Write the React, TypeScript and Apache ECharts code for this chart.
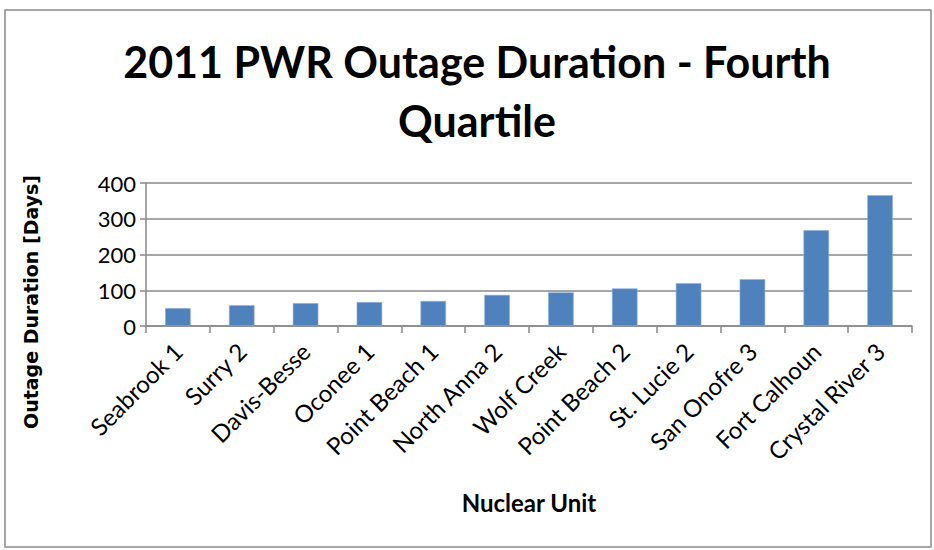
import React, { useEffect, useRef } from "react";
import * as echarts from "echarts";

const categories = [
  "Seabrook 1",
  "Surry 2",
  "Davis-Besse",
  "Oconee 1",
  "Point Beach 1",
  "North Anna 2",
  "Wolf Creek",
  "Point Beach 2",
  "St. Lucie 2",
  "San Onofre 3",
  "Fort Calhoun",
  "Crystal River 3",
];
const durations = [50, 58, 64, 67, 70, 87, 94, 105, 120, 131, 268, 366];
const titleText = "2011 PWR Outage Duration - Fourth\nQuartile";
const yAxisTitle = "Outage Duration [Days]";
const xAxisTitle = "Nuclear Unit";

export default function App() {
  const ref = useRef<HTMLDivElement>(null);
  useEffect(() => {
    if (!ref.current) return;
    const chart = echarts.init(ref.current, null, { renderer: "svg" });
    const font = "Lato, 'Open Sans', sans-serif";
    chart.setOption({
      animation: false,
      backgroundColor: "#ffffff",
      title: {
        text: titleText,
        left: 472,
        top: 27,
        textAlign: "center",
        textStyle: {
          fontFamily: font,
          fontWeight: "bold",
          fontSize: 43,
          lineHeight: 59,
          color: "#000",
        },
      },
      graphic: [
        {
          type: "rect",
          shape: { x: 5, y: 10, width: 926, height: 537 },
          style: { fill: "none", stroke: "#8a8a8a", lineWidth: 1.5 },
          silent: true,
        },
        {
          type: "text",
          x: 31,
          y: 302,
          rotation: Math.PI / 2,
          style: {
            text: yAxisTitle,
            fontFamily: "'DejaVu Sans', sans-serif",
            fontWeight: "bold",
            fontSize: 19,
            fill: "#000",
            align: "center",
            verticalAlign: "middle",
          },
          silent: true,
        },
      ],
      grid: { left: 146, right: 22, top: 183, bottom: 224, containLabel: false },
      xAxis: {
        type: "category",
        data: categories,
        name: xAxisTitle,
        nameLocation: "middle",
        nameGap: 164,
        nameTextStyle: {
          fontFamily: font,
          fontWeight: "bold",
          fontSize: 24,
          color: "#000",
        },
        axisLine: { lineStyle: { color: "#898989", width: 1.5 } },
        axisTick: { show: true, alignWithLabel: false, length: 7, lineStyle: { color: "#898989", width: 1.5 } },
        axisLabel: {
          rotate: 45,
          interval: 0,
          fontFamily: font,
          fontSize: 24,
          color: "#000",
          margin: 21,
        },
      },
      yAxis: {
        type: "value",
        min: 0,
        max: 400,
        interval: 100,
        axisLine: { show: true, lineStyle: { color: "#898989", width: 1.5 } },
        axisTick: { show: true, length: 6, lineStyle: { color: "#898989", width: 1.5 } },
        splitLine: { lineStyle: { color: "#898989", width: 1.5 } },
        axisLabel: {
          fontFamily: font,
          fontSize: 22,
          color: "#000",
          margin: 10,
        },
      },
      series: [
        {
          type: "bar",
          data: durations,
          barWidth: "40%",
          itemStyle: { color: "#4F81BD", borderColor: "#8eb0da", borderWidth: 0.6 },
        },
      ],
    });
    return () => chart.dispose();
  }, []);
  return (
    <div
      ref={ref}
      style={{ position: "fixed", left: 0, top: 0, width: 934, height: 550 }}
    />
  );
}
